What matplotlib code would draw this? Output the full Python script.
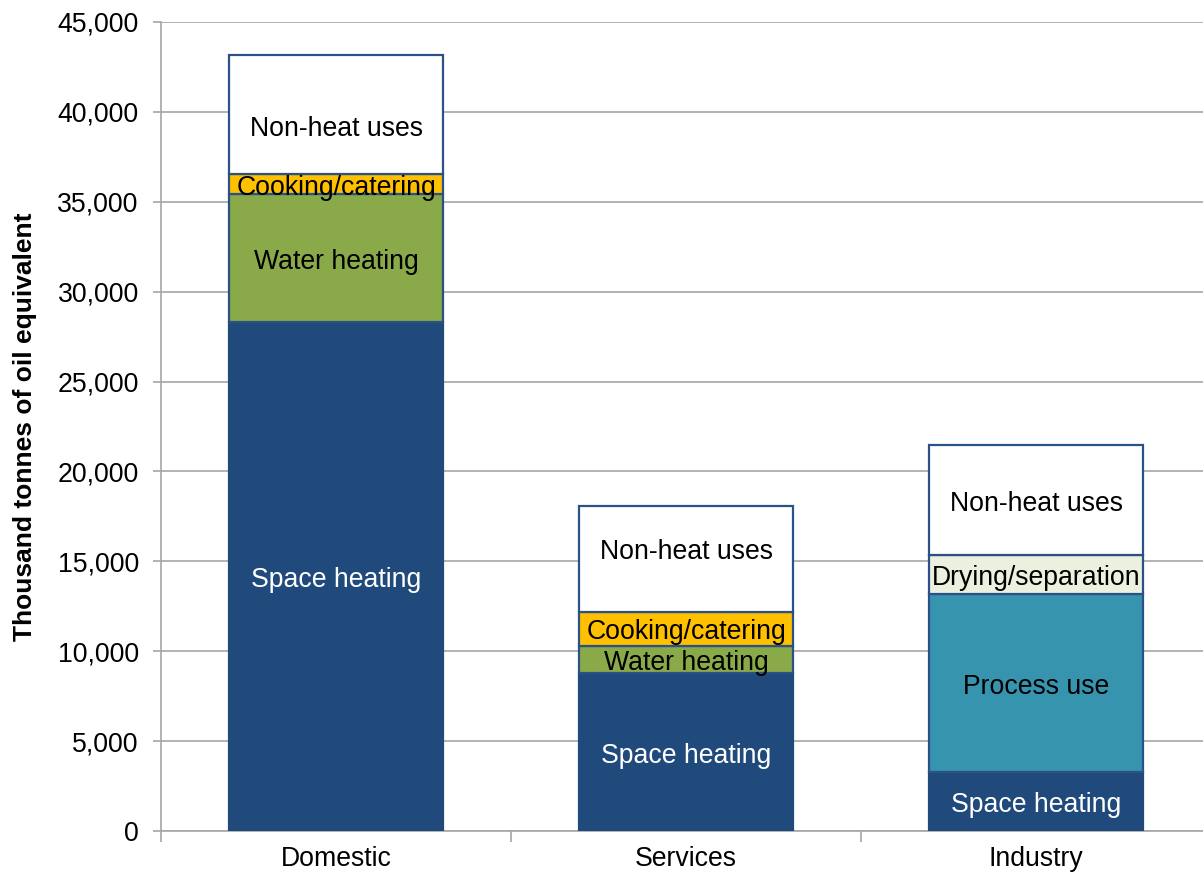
import matplotlib
matplotlib.use("Agg")
import matplotlib.pyplot as plt
from matplotlib.ticker import FuncFormatter, FixedLocator

plt.rcParams['font.family'] = ['Liberation Sans', 'DejaVu Sans']

categories = ["Domestic", "Services", "Industry"]
segment_names = ["Space heating", "Process use", "Water heating", "Cooking/catering",
                 "Drying/separation", "Non-heat uses"]
space_heating = [28330, 8770, 3260]
process_use = [0, 0, 9920]
water_heating = [7080, 1540, 0]
cooking_catering = [1110, 1850, 0]
drying_separation = [0, 0, 2170]
non_heat_uses = [6630, 5930, 6120]

series = [space_heating, process_use, water_heating, cooking_catering,
          drying_separation, non_heat_uses]
colors = ["#204A7C", "#3794AE", "#8AA948", "#FFC000", "#EBF1DE", "#FFFFFF"]
text_colors = ["white", "black", "black", "black", "black", "black"]
edge = "#2A5286"
# manual label nudges (data units) for a few labels
label_shift = {(0, 5): -580, (1, 5): 560}

W, H = 1203, 877
fig = plt.figure(figsize=(W / 100, H / 100), dpi=100)
ax = fig.add_axes([161 / W, 46 / H, 1050 / W, 809 / H])

x = list(range(len(categories)))
bottom = [0] * len(categories)
for si, (vals, col) in enumerate(zip(series, colors)):
    ec = col if si == 0 else edge
    for ci in range(len(categories)):
        v = vals[ci]
        if v <= 0:
            continue
        ax.bar(x[ci], v, bottom=bottom[ci], width=0.61, color=col,
               edgecolor=ec, linewidth=1.6, zorder=3)
        yc = bottom[ci] + v / 2 + label_shift.get((ci, si), 0)
        ax.annotate(segment_names[si], (x[ci], yc), xytext=(0, -2.5),
                    textcoords="offset points", ha="center", va="center",
                    fontsize=19.2, color=text_colors[si], zorder=4)
        bottom[ci] += v

ax.set_xlim(-0.5, 2.5)
ax.set_ylim(0, 45000)
ax.set_yticks(range(0, 45001, 5000))
ax.yaxis.set_major_formatter(FuncFormatter(lambda v, p: f"{int(v):,}"))
ax.yaxis.grid(True, color="#A6A6A6", linewidth=1.2, zorder=0)
ax.set_axisbelow(True)

ax.set_xticks(x)
ax.set_xticklabels(categories)
ax.tick_params(axis="x", which="major", length=0, pad=11, labelsize=19.2)
ax.xaxis.set_minor_locator(FixedLocator([-0.5, 0.5, 1.5, 2.5]))
ax.tick_params(axis="x", which="minor", length=8, color="#A6A6A6", width=1.2)
ax.tick_params(axis="y", length=6, color="#A6A6A6", width=1.2, labelsize=19.2, pad=10)

for s in ["top", "right"]:
    ax.spines[s].set_visible(False)
for s in ["left", "bottom"]:
    ax.spines[s].set_color("#A6A6A6")
    ax.spines[s].set_linewidth(1.2)

ax.set_ylabel("Thousand tonnes of oil equivalent", fontsize=19, fontweight="bold",
              labelpad=15)

fig.savefig("out.png", dpi=100)
